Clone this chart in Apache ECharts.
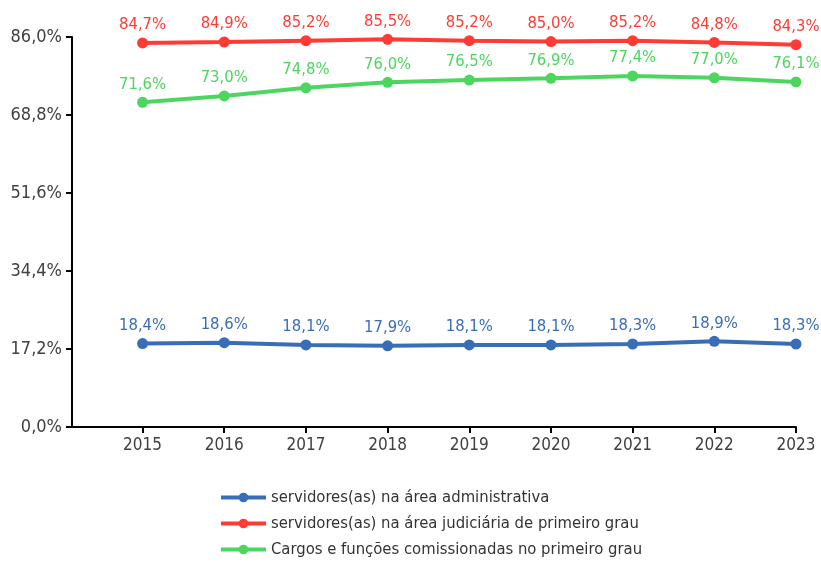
<!DOCTYPE html>
<html>
<head>
<meta charset="utf-8">
<script src="https://cdn.jsdelivr.net/npm/echarts@6/dist/echarts.min.js"></script>
<style>html,body{margin:0;padding:0;background:#fff}#c{width:821px;height:562px}</style>
</head>
<body>
<div id="c"></div>
<script>
const years = [2015, 2016, 2017, 2018, 2019, 2020, 2021, 2022, 2023];
const seriesNames = [
  'servidores(as) na área administrativa',
  'servidores(as) na área judiciária de primeiro grau',
  'Cargos e funções comissionadas no primeiro grau'
];
const administrativa = [18.4, 18.6, 18.1, 17.9, 18.1, 18.1, 18.3, 18.9, 18.3];
const judiciaria = [84.7, 84.9, 85.2, 85.5, 85.2, 85.0, 85.2, 84.8, 84.3];
const cargos = [71.6, 73.0, 74.8, 76.0, 76.5, 76.9, 77.4, 77.0, 76.1];
const yTicks = [0, 17.2, 34.4, 51.6, 68.8, 86.0];
const colors = ['#3A6DB7', '#FF3B33', '#4CD660'];

const FONT = '"Liberation Sans Narrow", "DejaVu Sans Condensed", sans-serif';
const fmt = v => v.toFixed(1).replace('.', ',') + '%';

function mk(name, vals, color) {
  return {
    name: name,
    type: 'line',
    data: years.map((y, i) => [y, vals[i]]),
    symbol: 'circle',
    symbolSize: 11,
    lineStyle: { width: 4, color: color },
    itemStyle: { color: color },
    label: {
      show: true, position: 'top', distance: 4,
      color: color, fontFamily: FONT, fontSize: 16.5,
      formatter: p => fmt(p.value[1])
    }
  };
}

const chart = echarts.init(document.getElementById('c'), null, { renderer: 'canvas' });
chart.setOption({
  animation: false,
  grid: { left: 72, right: 25, top: 37, bottom: 135, containLabel: false },
  xAxis: {
    type: 'value',
    min: 2014.136,
    max: 2023,
    splitLine: { show: false },
    axisLine: { show: true, lineStyle: { color: '#000', width: 2 } },
    axisTick: { show: true, length: 6, lineStyle: { color: '#000', width: 2 }, customValues: years },
    axisLabel: { color: '#404040', fontFamily: FONT, fontSize: 17, margin: 10, customValues: years, formatter: v => String(v) }
  },
  yAxis: {
    type: 'value',
    min: 0,
    max: 86,
    interval: 17.2,
    splitLine: { show: false },
    axisLine: { show: true, lineStyle: { color: '#000', width: 2 } },
    axisTick: { show: true, length: 6, lineStyle: { color: '#000', width: 2 } },
    axisLabel: { color: '#404040', fontFamily: FONT, fontSize: 18, margin: 10, formatter: v => fmt(v) }
  },
  legend: {
    orient: 'vertical',
    left: 219,
    top: 488,
    padding: 0,
    itemWidth: 45,
    itemHeight: 12,
    itemGap: 7,
    lineStyle: { width: 4 },
    textStyle: { color: '#333', fontFamily: FONT, fontSize: 16.5, lineHeight: 19 },
    data: seriesNames
  },
  series: [
    mk(seriesNames[0], administrativa, colors[0]),
    mk(seriesNames[1], judiciaria, colors[1]),
    mk(seriesNames[2], cargos, colors[2])
  ]
});
</script>
</body>
</html>
